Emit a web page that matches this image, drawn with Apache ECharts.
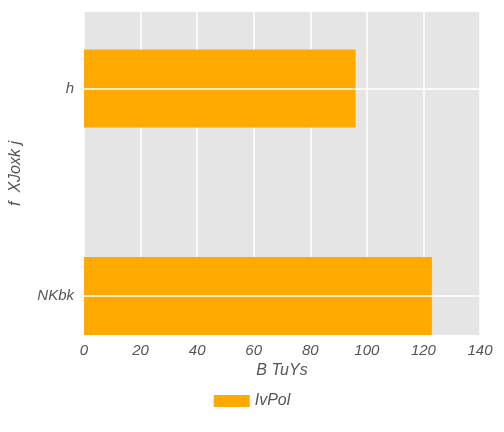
<!DOCTYPE html>
<html><head><meta charset="utf-8">
<script src="https://cdn.jsdelivr.net/npm/echarts@6/dist/echarts.min.js"></script>
<style>html,body{margin:0;padding:0;background:#fff}#c{width:504px;height:432px}</style>
</head><body><div id="c"></div>
<script>
const categories = ["NKbk", "h"];
const values = [123, 96];
const seriesName = "IvPol";
const xTicks = [0, 20, 40, 60, 80, 100, 120, 140];

const txt = {color:'#555', fontStyle:'italic', fontSize:15, fontFamily:'Liberation Sans'};
const chart = echarts.init(document.getElementById('c'));
chart.setOption({
  animation:false,
  grid:{left:80, right:24, top:12, bottom:97, backgroundColor:'#E5E5E5', show:true, borderWidth:0},
  xAxis:{type:'value', min:xTicks[0], max:xTicks[xTicks.length-1], interval:20,
    name:'B TuYs', nameLocation:'middle', nameGap:28, nameTextStyle:Object.assign({}, txt, {fontSize:16}),
    axisLabel:Object.assign({margin:8}, txt), axisLine:{show:false}, axisTick:{show:false},
    splitLine:{lineStyle:{color:'#fff', width:1.5}}},
  yAxis:{type:'value', min:-0.188, max:1.369,
    name:'f  XJoxk j', nameLocation:'middle', nameGap:60, nameTextStyle:Object.assign({}, txt, {fontSize:16}),
    axisLabel:Object.assign({margin:10, customValues:[0,1], formatter:v=>categories[Math.round(v)]}, txt),
    axisLine:{show:false}, axisTick:{show:false}, splitLine:{show:false}},
  legend:{bottom:18, left:'center', itemWidth:36, itemHeight:12, itemGap:10,
    textStyle:Object.assign({}, txt, {fontSize:16}), data:[{name:seriesName, icon:'rect'}]},
  series:[
    {type:'line', data:[], silent:true,
     markLine:{silent:true, symbol:'none', label:{show:false}, lineStyle:{color:'#fff', width:1.5, type:'solid'},
      data:categories.map((c,i)=>({yAxis:i}))}},
    {name:seriesName, type:'custom', itemStyle:{color:'#FFAA00'}, z:3,
    data:values.map((v,i)=>[v,i]), encode:{x:0,y:1},
    renderItem:(params, api)=>{
      const end = api.coord([api.value(0), api.value(1)]);
      const start = api.coord([0, api.value(1)]);
      const h = 78;
      return {type:'rect', shape:{x:start[0], y:start[1]-h/2, width:end[0]-start[0], height:h},
        style:{fill:'#FFAA00'}};
    }}]
});
</script></body></html>
